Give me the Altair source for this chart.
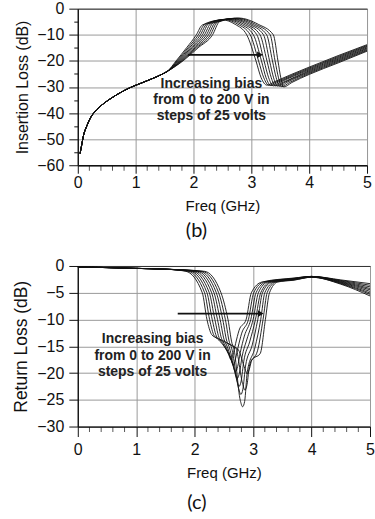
import altair as alt
import pandas as pd

BIAS_V = [0, 25, 50, 75, 100, 125, 150, 175, 200]

# ---------- (b) Insertion loss (dB) vs frequency (GHz) ----------
IL_SHARED = [(0.04, -55.5), (0.065, -52.5), (0.10, -48.5), (0.155, -45.0), (0.22, -41.8),
             (0.33, -38.7), (0.45, -36.3), (0.60, -34.0), (0.75, -32.0), (0.90, -30.3),
             (1.10, -28.5), (1.30, -26.7), (1.45, -25.2), (1.55, -24.0)]
IL_0V = [(1.700, -20), (1.880, -15), (2.050, -10), (2.150, -6.3), (2.500, -4.30), (2.720, -6),
         (2.920, -10), (3.080, -20), (3.170, -26.5), (3.270, -29.3), (3.400, -28.0),
         (4.0, -22.4), (4.5, -18.0), (5.0, -13.8)]
IL_25V = [(1.715, -20), (1.905, -15), (2.085, -10), (2.190, -6.1), (2.535, -4.20), (2.770, -6),
          (2.980, -10), (3.125, -20), (3.215, -26.5), (3.305, -29.4), (3.440, -28.0),
          (4.0, -22.75), (4.5, -18.35), (5.0, -14.1)]
IL_50V = [(1.730, -20), (1.930, -15), (2.120, -10), (2.225, -6.0), (2.570, -4.10), (2.820, -6),
          (3.035, -10), (3.175, -20), (3.255, -26.5), (3.340, -29.5), (3.470, -28.1),
          (4.0, -23.1), (4.5, -18.7), (5.0, -14.4)]
IL_75V = [(1.745, -20), (1.955, -15), (2.155, -10), (2.260, -5.8), (2.605, -4.00), (2.870, -6),
          (3.095, -10), (3.220, -20), (3.300, -26.5), (3.380, -29.6), (3.510, -28.1),
          (4.0, -23.45), (4.5, -19.05), (5.0, -14.7)]
IL_100V = [(1.760, -20), (1.980, -15), (2.190, -10), (2.300, -5.7), (2.640, -3.90), (2.920, -6),
           (3.150, -10), (3.270, -20), (3.345, -26.5), (3.415, -29.6), (3.550, -28.2),
           (4.0, -23.8), (4.5, -19.4), (5.0, -15.05)]
IL_125V = [(1.775, -20), (2.005, -15), (2.225, -10), (2.340, -5.5), (2.675, -3.85), (2.970, -6),
           (3.210, -10), (3.315, -20), (3.385, -26.5), (3.450, -29.7), (3.580, -28.2),
           (4.0, -24.15), (4.5, -19.75), (5.0, -15.35)]
IL_150V = [(1.790, -20), (2.030, -15), (2.260, -10), (2.375, -5.4), (2.710, -3.75), (3.020, -6),
           (3.265, -10), (3.365, -20), (3.430, -26.5), (3.490, -29.8), (3.620, -28.2),
           (4.0, -24.5), (4.5, -20.1), (5.0, -15.7)]
IL_175V = [(1.805, -20), (2.055, -15), (2.295, -10), (2.410, -5.2), (2.745, -3.65), (3.070, -6),
           (3.325, -10), (3.410, -20), (3.470, -26.5), (3.525, -29.9), (3.660, -28.3),
           (4.0, -24.85), (4.5, -20.45), (5.0, -16.0)]
IL_200V = [(1.820, -20), (2.080, -15), (2.330, -10), (2.450, -5.0), (2.780, -3.60), (3.120, -6),
           (3.380, -10), (3.460, -20), (3.510, -26.5), (3.560, -30.0), (3.700, -28.3),
           (4.0, -25.2), (4.5, -20.8), (5.0, -16.3)]
IL_CURVES = [IL_0V, IL_25V, IL_50V, IL_75V, IL_100V, IL_125V, IL_150V, IL_175V, IL_200V]

# ---------- (c) Return loss (dB) vs frequency (GHz) ----------
RL_SHARED = [(0.0, -0.2), (0.5, -0.3), (1.0, -0.45), (1.5, -0.6)]
RL_0V = [(1.85, -1.0), (2.13, -5), (2.21, -10), (2.29, -12.8), (2.39, -13.6), (2.58, -16.5),
         (2.62, -17.5), (2.655, -16.6), (2.70, -14.5), (2.76, -12.0), (2.88, -10), (2.97, -5),
         (3.15, -3), (3.7, -2.25), (4.0, -1.95), (4.5, -2.6), (5.0, -3.3)]
RL_25V = [(1.89, -1.0), (2.17, -5), (2.255, -10), (2.335, -13.05), (2.435, -13.85), (2.62, -17.4),
          (2.66, -18.5), (2.695, -17.5), (2.74, -15.3), (2.805, -12.55), (2.92, -10), (3.01, -5),
          (3.18, -3), (3.7, -2.3), (4.0, -1.95), (4.5, -2.7), (5.0, -3.6)]
RL_50V = [(1.93, -1.0), (2.21, -5), (2.30, -10), (2.38, -13.3), (2.48, -14.1), (2.66, -18.6),
          (2.70, -19.8), (2.735, -18.8), (2.78, -16.2), (2.85, -13.1), (2.96, -10), (3.05, -5),
          (3.22, -3), (3.7, -2.35), (4.0, -1.95), (4.5, -2.8), (5.0, -3.9)]
RL_75V = [(1.97, -1.0), (2.25, -5), (2.345, -10), (2.425, -13.55), (2.525, -14.35), (2.69, -19.8),
          (2.73, -21.0), (2.765, -20.0), (2.81, -17.0), (2.895, -13.65), (3.00, -10), (3.09, -5),
          (3.25, -3), (3.7, -2.4), (4.0, -2.0), (4.5, -2.9), (5.0, -4.2)]
RL_100V = [(2.01, -1.0), (2.29, -5), (2.39, -10), (2.47, -13.8), (2.57, -14.6), (2.72, -21.3),
           (2.76, -22.5), (2.795, -21.5), (2.84, -17.8), (2.94, -14.2), (3.04, -10), (3.13, -5),
           (3.29, -3), (3.7, -2.45), (4.0, -2.0), (4.5, -3.0), (5.0, -4.45)]
RL_125V = [(2.05, -1.0), (2.33, -5), (2.435, -10), (2.515, -14.05), (2.615, -14.85), (2.75, -22.8),
           (2.79, -24.0), (2.825, -23.0), (2.87, -18.7), (2.985, -14.75), (3.08, -10), (3.16, -5),
           (3.32, -3), (3.7, -2.5), (4.0, -2.05), (4.5, -3.1), (5.0, -4.75)]
RL_150V = [(2.09, -1.0), (2.37, -5), (2.48, -10), (2.56, -14.3), (2.66, -15.1), (2.78, -25.1),
           (2.82, -26.3), (2.855, -25.3), (2.90, -19.8), (3.03, -15.3), (3.13, -10), (3.20, -5),
           (3.36, -3), (3.7, -2.55), (4.0, -2.05), (4.5, -3.2), (5.0, -5.05)]
RL_175V = [(2.13, -1.0), (2.41, -5), (2.525, -10), (2.605, -14.55), (2.705, -15.4), (2.82, -22.0),
           (2.86, -23.2), (2.895, -22.2), (2.94, -18.5), (3.075, -15.85), (3.17, -10), (3.24, -5),
           (3.39, -3), (3.7, -2.6), (4.0, -2.1), (4.5, -3.3), (5.0, -5.3)]
RL_200V = [(2.17, -1.0), (2.45, -5), (2.57, -10), (2.65, -14.8), (2.75, -15.7), (2.86, -19.2),
           (2.90, -20.2), (2.935, -19.3), (2.98, -17.5), (3.12, -16.4), (3.21, -10), (3.28, -5),
           (3.42, -3), (3.7, -2.65), (4.0, -2.1), (4.5, -3.4), (5.0, -5.6)]
RL_CURVES = [RL_0V, RL_25V, RL_50V, RL_75V, RL_100V, RL_125V, RL_150V, RL_175V, RL_200V]

# ---------- annotations ----------
NOTE_LINES = ["Increasing bias", "from 0 to 200 V in", "steps of 25 volts"]
IL_NOTE_F = 2.31
IL_NOTE_DB = [-29.0, -35.0, -41.0]
RL_NOTE_F = 1.28
RL_NOTE_DB = [-13.7, -16.8, -19.9]
IL_ARROW_F = [1.90, 3.15]
IL_ARROW_DB = -17.7
RL_ARROW_F = [1.71, 3.13]
RL_ARROW_DB = -8.9

# ---------- ticks ----------
X_MAJOR = [0, 1, 2, 3, 4, 5]
X_MINOR = [0.2, 0.4, 0.6, 0.8, 1.2, 1.4, 1.6, 1.8, 2.2, 2.4, 2.6, 2.8,
           3.2, 3.4, 3.6, 3.8, 4.2, 4.4, 4.6, 4.8]
IL_Y_TICKS = [-60, -55, -50, -45, -40, -35, -30, -25, -20, -15, -10, -5, 0]
RL_Y_TICKS = [-30, -25, -20, -15, -10, -5, 0]

FONT = "Liberation Sans"
INK = "#111111"
GRID = "#9a9a9a"


def curves_frame(shared, curves):
    rows = []
    for v, pts in zip(BIAS_V, curves):
        for f, db in list(shared) + list(pts):
            rows.append({"bias": v, "f": f, "db": db})
    return pd.DataFrame(rows)


def panel(shared, curves, ydom, yticks, ymajor, ytitle, ytitle_size,
          note_f, note_db, arrow_f, arrow_db, width, height, tag, xt, xlp, xtp, tag_off, tag_dx):
    df = curves_frame(shared, curves)
    xs = alt.Scale(domain=[0, 5], nice=False, zero=False)
    ys = alt.Scale(domain=ydom, nice=False, zero=False)
    xax = alt.Axis(
        values=X_MAJOR, tickCount=10, format="d", labelOverlap=False,
        tickSize=xt, labelPadding=xlp, titlePadding=xtp, title="Freq (GHz)",
        labelFontSize=16, titleFontSize=15, labelFlush=False,
    )
    yax = alt.Axis(
        values=yticks, tickCount=100, format="d", labelOverlap=False,
        labelExpr=f"datum.value % {ymajor} === 0 ? datum.label : ''",
        tickSize=alt.condition(f"datum.value % {ymajor} === 0", alt.value(9), alt.value(4)),
        gridOpacity=alt.condition(f"datum.value % {ymajor} === 0", alt.value(1), alt.value(0)),
        gridColor=alt.condition("datum.value === 0", alt.value("#333333"), alt.value(GRID)),
        labelPadding=5, titlePadding=6, title=ytitle,
        labelFontSize=16, titleFontSize=ytitle_size,
    )
    X = alt.X("f:Q", scale=xs, axis=xax)
    Y = alt.Y("db:Q", scale=ys, axis=yax)
    lines = alt.Chart(df).mark_line(
        interpolate="monotone", color=INK, strokeWidth=0.9, clip=True
    ).encode(x=X, y=Y, detail="bias:N")
    # minor ticks hanging below the frequency axis
    minor_df = pd.DataFrame({"f": X_MINOR, "db": [ydom[0]] * len(X_MINOR)})
    minor = alt.Chart(minor_df).mark_tick(
        orient="vertical", color=INK, size=5, thickness=1, yOffset=3
    ).encode(x=X, y=Y)
    arrow_df = pd.DataFrame({"f": [arrow_f[0]], "f_end": [arrow_f[1]], "db": [arrow_db]})
    rule = alt.Chart(arrow_df).mark_rule(color=INK, strokeWidth=1.6).encode(
        x=X, x2="f_end:Q", y=Y)
    head_df = pd.DataFrame({"f": [arrow_f[1]], "db": [arrow_db]})
    head = alt.Chart(head_df).mark_point(
        shape="triangle-right", filled=True, color=INK, size=45, opacity=1
    ).encode(x=X, y=Y)
    note_df = pd.DataFrame({"t": NOTE_LINES, "f": [note_f] * 3, "db": note_db})
    note = alt.Chart(note_df).mark_text(
        font=FONT, fontSize=14, fontWeight="bold", color="#222222",
        align="center", baseline="middle"
    ).encode(x=X, y=Y, text="t:N")
    return alt.layer(lines, minor, rule, head, note).properties(
        width=width, height=height,
        title=alt.TitleParams(text=tag, orient="bottom", anchor="middle", font="Lato",
                              fontSize=20, fontWeight="normal", color=INK,
                              offset=tag_off, dx=tag_dx),
    )


top = panel(IL_SHARED, IL_CURVES, [-60, 0], IL_Y_TICKS, 10, "Insertion Loss (dB)", 16,
            IL_NOTE_F, IL_NOTE_DB, IL_ARROW_F, IL_ARROW_DB, 290, 157, "(b)",
            8, 1, 8, 8, -26)
bottom = panel(RL_SHARED, RL_CURVES, [-30, 0], RL_Y_TICKS, 5, "Return Loss (dB)", 17.5,
               RL_NOTE_F, RL_NOTE_DB, RL_ARROW_F, RL_ARROW_DB, 293, 161, "(c)",
               10, 5.5, 8, 12, -27)

chart = alt.vconcat(top, bottom, spacing=15).properties(
    padding={"left": 12, "top": -1, "right": 0, "bottom": 0},
    background="white",
).configure_axis(
    labelFont=FONT, titleFont=FONT, titleFontWeight="normal",
    labelColor=INK, titleColor=INK, domainColor=INK, domainWidth=1.3,
    tickColor=INK, tickWidth=1, gridColor=GRID, gridWidth=1,
).configure_view(stroke=GRID, strokeWidth=1)

chart.save("out.html", embed_options={"renderer": "svg", "actions": False})
